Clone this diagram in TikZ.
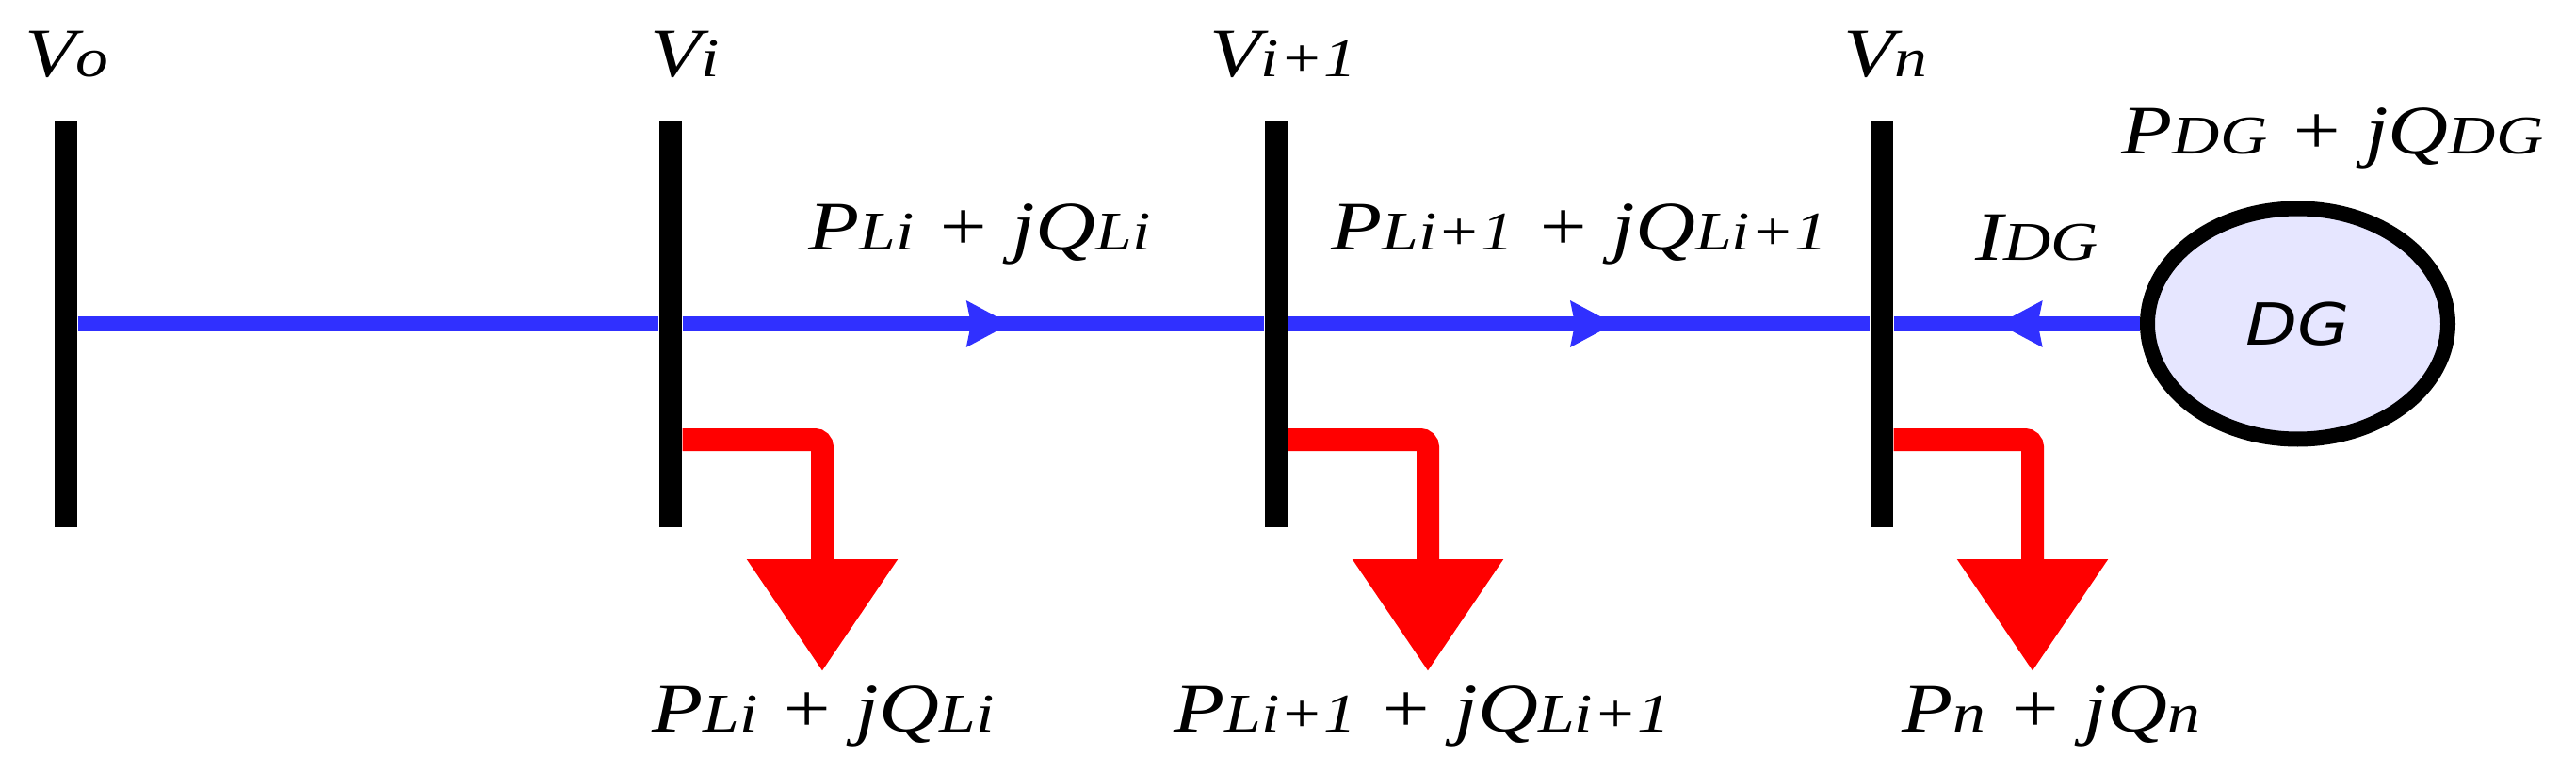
\documentclass[tikz,border=0pt]{standalone}
\usepackage{fontspec}
\usepackage{xcolor}
\usepackage{tikz}
\usetikzlibrary{shapes.geometric, arrows.meta, decorations.markings}
\newfontfamily\lblfont[FakeStretch=1.2]{Liberation Serif}
\newfontfamily\dgfont[FakeStretch=1.16]{DejaVu Sans}
\newcommand{\low}[1]{{\fontsize{16.5}{18}\selectfont #1}}
\definecolor{feederblue}{HTML}{3030FF}
\definecolor{dgfill}{HTML}{E6E6FF}
\tikzset{
  busbar/.style={rectangle, fill=black, minimum width=0.24cm, minimum height=4.32cm, inner sep=0pt},
  feeder/.style={draw=feederblue, line width=0.16cm},
  flow/.style={feeder, postaction={decorate}, decoration={markings, mark=at position #1 with {\arrow[feederblue]{Stealth[length=0.46cm, width=0.47cm, inset=0.04cm]}}}},
  loadline/.style={-{Triangle[length=1.19cm, width=1.54cm]}, red, line width=0.24cm, rounded corners=0.08cm},
  gen/.style={ellipse, draw=black, fill=dgfill, line width=0.16cm, minimum width=3.19cm, minimum height=2.45cm, inner sep=0pt},
  lbl/.style={anchor=base west, inner sep=0pt, font=\lblfont\itshape\fontsize{21}{24}\selectfont},
}
\begin{document}
\begin{tikzpicture}
    \useasboundingbox (0,0) rectangle (27.35,8.19);
    % buses
    \node[busbar] (bus0) at (0.70,4.75) {};
    \node[busbar] (bus1) at (7.12,4.75) {};
    \node[busbar] (bus2) at (13.55,4.75) {};
    \node[busbar] (bus3) at (19.98,4.75) {};
    \node[gen] (dg) at (24.395,4.75) {\dgfont\itshape\fontsize{17.5}{20}\selectfont DG};
    % line
    \draw[feeder] (bus0) -- (bus1);
    \draw[flow=0.564] (bus1) -- (bus2);
    \draw[flow=0.561] (bus2) -- (bus3);
    \draw[flow=0.576] (dg) -- (bus3);
    % loads
    \coordinate (tap1) at (bus1.east |- 0,3.52);
    \coordinate (tap2) at (bus2.east |- 0,3.52);
    \coordinate (tap3) at (bus3.east |- 0,3.52);
    \coordinate (load1) at (8.73,1.06);
    \coordinate (load2) at (15.16,1.06);
    \coordinate (load3) at (21.58,1.06);
    \draw[loadline] (tap1) -| (load1);
    \draw[loadline] (tap2) -| (load2);
    \draw[loadline] (tap3) -| (load3);
    % labels
    \node[lbl] (v0) at (0.26,7.37) {V\low{o}};
    \node[lbl] (v1) at (6.90,7.37) {V\low{i}};
    \node[lbl] (v2) at (12.84,7.37) {V\low{i+1}};
    \node[lbl] (v3) at (19.57,7.37) {V\low{n}};
    \node[lbl] (sdg) at (22.52,6.56) {P\low{DG} + jQ\low{DG}};
    \node[lbl] (idg) at (20.97,5.43) {I\low{DG}};
    \node[lbl] (s1) at (8.58,5.54) {P\low{Li} + jQ\low{Li}};
    \node[lbl] (s2) at (14.13,5.54) {P\low{Li+1} + jQ\low{Li+1}};
    \node[lbl] (l1) at (6.92,0.42) {P\low{Li} + jQ\low{Li}};
    \node[lbl] (l2) at (12.46,0.42) {P\low{Li+1} + jQ\low{Li+1}};
    \node[lbl] (l3) at (20.19,0.42) {P\low{n} + jQ\low{n}};
  \end{tikzpicture}
\end{document}
